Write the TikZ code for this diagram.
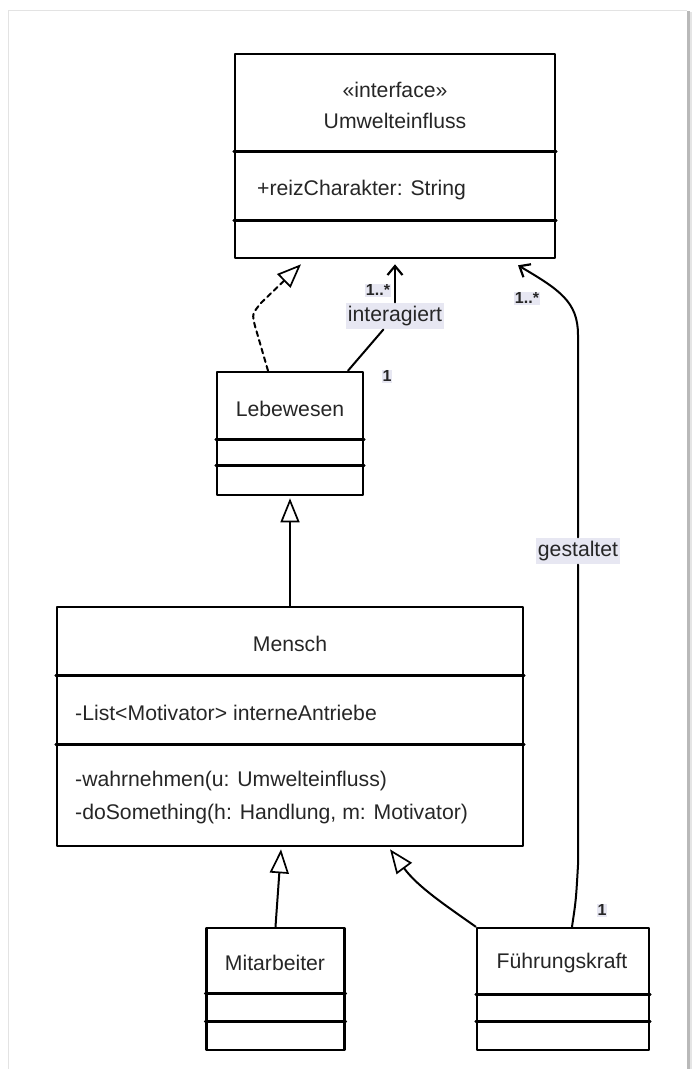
\documentclass[tikz,border=0pt]{standalone}
\usepackage{fontspec}
\setmainfont{Liberation Sans}
\usetikzlibrary{arrows.meta}
\definecolor{ink}{HTML}{262626}
\definecolor{tagbg}{HTML}{E7E7F2}
\begin{document}
\begin{tikzpicture}[x=1pt,y=-1pt,
  classbox/.style={draw=black, line width=2.6pt, inner sep=0pt, line join=round},
  sep/.style={line width=2.5pt, line cap=round},
  txt/.style={font=\fontsize{21.2}{25}\selectfont, text=ink, inner sep=0pt},
  tag/.style={font=\fontsize{21.2}{25}\selectfont, text=ink, fill=tagbg, inner xsep=1.5pt, inner ysep=3.5pt},
  mult/.style={font=\bfseries\fontsize{16}{18}\selectfont, text=ink, fill=tagbg, inner sep=1pt},
  conn/.style={line width=2pt, line cap=round, line join=round},
  gen/.style={conn, -{Triangle[open, length=24pt, width=19pt, line width=1.7pt]}},
  real/.style={gen, dash pattern=on 5pt off 4pt},
  nav/.style={conn, -{Straight Barb[length=9pt, width=15pt, line width=2.2pt]}}]

\useasboundingbox (0,0) rectangle (692,1069);

% page frame with its shadow on the right
\draw[gray!22, line width=1pt] (8,1069) -- (8,10) -- (687,10);
\fill[gray!55] (687,11) rectangle (690,1069);
\fill[gray!20] (690,12) rectangle (692,1069);

% ---------- classes ----------
\node[classbox, minimum width=320, minimum height=204] (umw) at (395,156) {};
\draw[sep] ([shift={(0,99)}]umw.north west) -- ([shift={(0,99)}]umw.north east);
\draw[sep] ([shift={(0,168)}]umw.north west) -- ([shift={(0,168)}]umw.north east);
\node[txt] (umwst) at (395,90) {«interface»};
\node[txt] (umwname) at (395,121) {Umwelteinfluss};
\node[txt, anchor=west] (umwattr) at (257,190) {+reizCharakter: String};

\node[classbox, minimum width=146, minimum height=123] (leb) at (290,433.5) {};
\draw[sep] ([shift={(0,69)}]leb.north west) -- ([shift={(0,69)}]leb.north east);
\draw[sep] ([shift={(0,95)}]leb.north west) -- ([shift={(0,95)}]leb.north east);
\node[txt] (lebname) at (290,409) {Lebewesen};

\node[classbox, minimum width=466, minimum height=239] (men) at (290,726.5) {};
\draw[sep] ([shift={(0,70)}]men.north west) -- ([shift={(0,70)}]men.north east);
\draw[sep] ([shift={(0,139)}]men.north west) -- ([shift={(0,139)}]men.north east);
\node[txt] (menname) at (290,644) {Mensch};
\node[txt, anchor=west] (menattr) at (75,713) {-List<Motivator> interneAntriebe};
\node[txt, anchor=west] (menop1) at (75,781) {-wahrnehmen(u: Umwelteinfluss)};
\node[txt, anchor=west] (menop2) at (75,814) {-doSomething(h: Handlung, m: Motivator)};

\node[classbox, minimum width=138, minimum height=122] (mit) at (275.5,989) {};
\draw[sep] ([shift={(0,67)}]mit.north west) -- ([shift={(0,67)}]mit.north east);
\draw[sep] ([shift={(0,95)}]mit.north west) -- ([shift={(0,95)}]mit.north east);
\node[txt] (mitname) at (275,963) {Mitarbeiter};

\node[classbox, minimum width=172, minimum height=122] (fuh) at (563,989) {};
\draw[sep] ([shift={(0,68)}]fuh.north west) -- ([shift={(0,68)}]fuh.north east);
\draw[sep] ([shift={(0,95)}]fuh.north west) -- ([shift={(0,95)}]fuh.north east);
\node[txt] (fuhname) at (562,963) {Führungskraft};

% ---------- labels ----------
\node[tag] (intl) at (395,316) {interagiert};
\node[tag] (gel) at (578,551) {gestaltet};
\node[mult] (m1) at (378,290) {1..*};
\node[mult] (m2) at (387,376) {1};
\node[mult] (m3) at (527,298) {1..*};
\node[mult] (m4) at (602,910) {1};

% ---------- relations ----------
% Lebewesen realizes Umwelteinfluss
\draw[real] ([xshift=-22pt]leb.north) -- (255,326)
  .. controls (252,314) .. (261,303) -- ([shift={(-94,5)}]umw.south);

% interagiert
\draw[conn] ([xshift=58pt]leb.north) -- (intl);
\draw[nav] (intl.north) -- ([shift={(0,5)}]umw.south);

% gestaltet
\draw[conn] ([xshift=9pt]fuh.north) .. controls (576,900) .. (578,865) -- (gel.south);
\draw[nav] (gel.north) -- (578,335) .. controls (578,302) and (560,290) .. ([shift={(123,6)}]umw.south);

% generalizations
\draw[gen] (men.north) -- ([yshift=-2pt]leb.south);
\draw[gen] (mit.north) -- ([shift={(-9,2)}]men.south);
\draw[gen] (fuh.north west) .. controls (445,905) and (418,887) .. ([shift={(100,2)}]men.south);

\end{tikzpicture}
\end{document}
